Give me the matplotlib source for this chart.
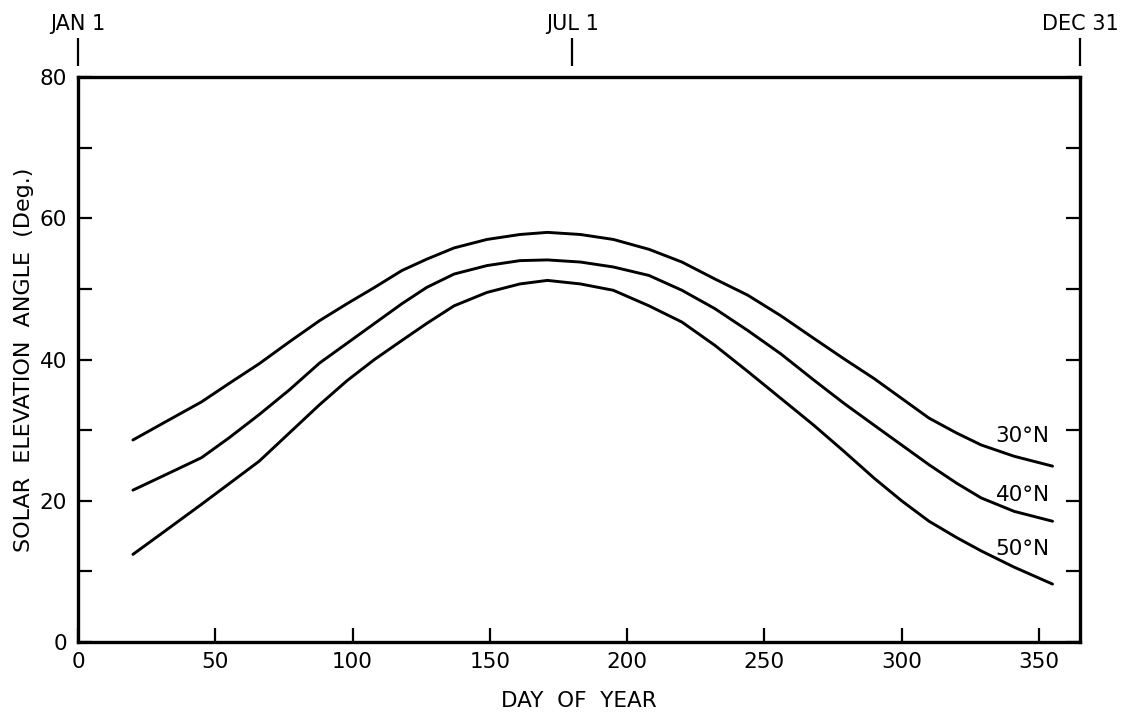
import matplotlib
matplotlib.use("Agg")
import matplotlib.pyplot as plt

plt.rcParams['font.family'] = ['DejaVu Sans']

days = [20, 32, 45, 55, 66, 77, 88, 98, 108, 118, 127, 137, 149, 161, 171,
        183, 195, 208, 220, 232, 244, 256, 268, 279, 290, 300, 310, 320, 329, 341, 355]
elev_30n = [28.6, 31.2, 34.0, 36.6, 39.4, 42.5, 45.5, 47.9, 50.2, 52.6, 54.2, 55.8, 57.0, 57.7, 58.0,
            57.7, 57.0, 55.6, 53.8, 51.4, 49.1, 46.2, 43.0, 40.1, 37.3, 34.5, 31.7, 29.6, 27.9, 26.3, 24.9]
elev_40n = [21.5, 23.7, 26.1, 28.9, 32.2, 35.7, 39.5, 42.3, 45.1, 47.9, 50.2, 52.1, 53.3, 54.0, 54.1,
            53.8, 53.1, 51.9, 49.8, 47.2, 44.1, 40.8, 37.1, 33.8, 30.7, 27.9, 25.1, 22.5, 20.4, 18.5, 17.1]
elev_50n = [12.4, 15.8, 19.5, 22.4, 25.6, 29.6, 33.6, 37.0, 40.0, 42.7, 45.1, 47.6, 49.5, 50.7, 51.2,
            50.7, 49.8, 47.6, 45.3, 42.0, 38.3, 34.5, 30.7, 27.0, 23.2, 20.0, 17.1, 14.8, 12.9, 10.6, 8.2]
series_labels = ["30°N", "40°N", "50°N"]
label_pos = [(354, 29.2), (354, 20.8), (354, 13.1)]

x_ticks = [0, 50, 100, 150, 200, 250, 300, 350]
y_ticks = list(range(0, 81, 10))
y_tick_labels = ["0", "", "20", "", "40", "", "60", "", "80"]
date_ticks = [0, 180, 365]
date_labels = ["JAN 1", "JUL 1", "DEC 31"]

fig = plt.figure(figsize=(11.25, 7.17), dpi=100)
ax = fig.add_axes([78/1125, 1 - 642/717, (1080 - 78)/1125, (642 - 77)/717])

for vals in (elev_30n, elev_40n, elev_50n):
    ax.plot(days, vals, color='black', lw=2.1, solid_capstyle='round', solid_joinstyle='round')

for lab, (xx, yy) in zip(series_labels, label_pos):
    ax.text(xx, yy, lab, ha='right', va='center', fontsize=15.5, color='black')

ax.set_xlim(0, 365)
ax.set_ylim(0, 80)
ax.set_xticks(x_ticks)
ax.set_yticks(y_ticks)
ax.set_yticklabels(y_tick_labels)
ax.tick_params(axis='both', direction='in', length=10, width=1.6, labelsize=15.5,
               top=True, right=True, colors='black')
ax.tick_params(axis='x', pad=7)
ax.tick_params(axis='y', pad=8)
for s in ax.spines.values():
    s.set_linewidth(2.4)
ax.set_xlabel("DAY  OF  YEAR", fontsize=15.5, labelpad=14)
ax.set_ylabel("SOLAR  ELEVATION  ANGLE  (Deg.)", fontsize=16, labelpad=4)

ax2 = ax.twiny()
ax2.set_xlim(0, 365)
ax2.set_xticks(date_ticks)
ax2.set_xticklabels(date_labels)
ax2.spines['top'].set_position(('outward', 8))
for s in ax2.spines.values():
    s.set_visible(False)
ax2.tick_params(axis='x', direction='out', length=20, width=1.6, labelsize=15, pad=3)

fig.savefig("out.png", dpi=100, facecolor='white')
